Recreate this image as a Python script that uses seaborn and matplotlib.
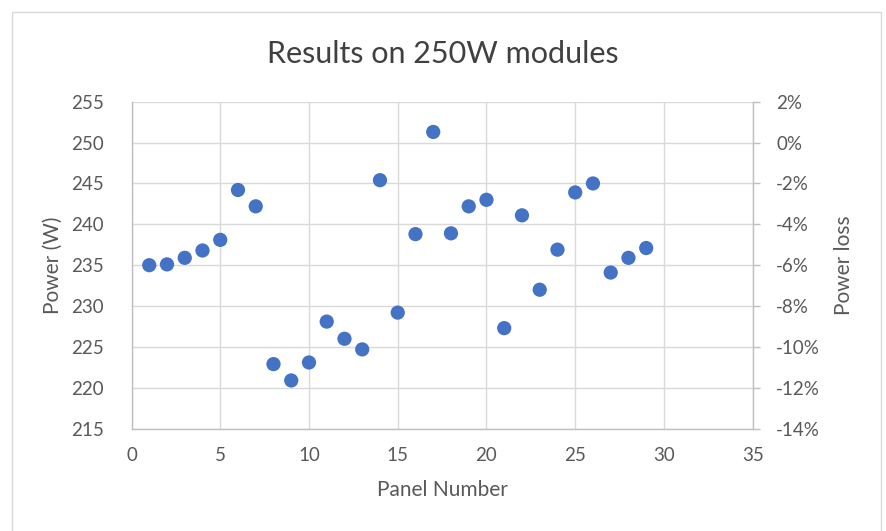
import matplotlib
matplotlib.use("Agg")
import matplotlib.pyplot as plt
import matplotlib.patches as patches
from matplotlib.ticker import PercentFormatter
import seaborn as sns
import pandas as pd

panel_number = list(range(1, 30))
power_w = [235.0, 235.1, 235.9, 236.8, 238.1, 244.2, 242.2, 222.9, 220.9, 223.1,
           228.1, 226.0, 224.7, 245.4, 229.2, 238.8, 251.3, 238.9, 242.2, 243.0,
           227.3, 241.1, 232.0, 236.9, 243.9, 245.0, 234.1, 235.9, 237.1]
x_ticks = [0, 5, 10, 15, 20, 25, 30, 35]
y_ticks = [215, 220, 225, 230, 235, 240, 245, 250, 255]
loss_ticks = [-0.14, -0.12, -0.10, -0.08, -0.06, -0.04, -0.02, 0.0, 0.02]

df = pd.DataFrame({"Panel Number": panel_number, "Power (W)": power_w})

sns.set_theme(style="white")
plt.rcParams["font.family"] = ["Lato", "DejaVu Sans"]
plt.rcParams["axes.unicode_minus"] = False
TXT = "#595959"
GRID = "#D9D9D9"
SPINE = "#BFBFBF"

fig = plt.figure(figsize=(8.86, 5.31), dpi=100)
fig.subplots_adjust(left=131.5/886, right=752.7/886, top=1-101.7/531, bottom=1-428.7/531)
ax = fig.add_subplot(111)

sns.scatterplot(data=df, x="Panel Number", y="Power (W)", ax=ax, s=105,
                color="#4472C4", edgecolor="none", linewidth=0, zorder=3)

ax.set_xlim(0, 35)
ax.set_ylim(215, 255)
ax.set_xticks(x_ticks)
ax.set_yticks(y_ticks)
ax.grid(True, color=GRID, linewidth=1.0)
ax.set_axisbelow(True)
for side in ["top", "right"]:
    ax.spines[side].set_visible(False)
for side in ["left", "bottom"]:
    ax.spines[side].set_color(SPINE)
    ax.spines[side].set_linewidth(1.0)
ax.tick_params(axis="both", length=0, labelsize=13.5, labelcolor=TXT)
ax.tick_params(axis="y", pad=20)
ax.tick_params(axis="x", pad=13)
ax.set_xlabel("Panel Number", fontsize=15, color=TXT, labelpad=12)
ax.set_ylabel("Power (W)", fontsize=15, color=TXT, labelpad=6)

ax2 = ax.twinx()
ax2.set_ylim(-0.14, 0.02)
ax2.set_yticks(loss_ticks)
ax2.yaxis.set_major_formatter(PercentFormatter(1.0, decimals=0))
for side in ["top", "left", "bottom"]:
    ax2.spines[side].set_visible(False)
ax2.spines["right"].set_color(SPINE)
ax2.spines["right"].set_linewidth(1.0)
ax2.tick_params(axis="y", direction="out", length=5, color=SPINE, width=1.0,
                labelsize=13.5, labelcolor=TXT, pad=12)
ax2.set_ylabel("Power loss", fontsize=15, color=TXT, labelpad=10)
ax2.grid(False)

fig.suptitle("Results on 250W modules", fontsize=22, color="#404040",
             y=1-54/531, va="center")

border = patches.Rectangle((12/886, -0.1), (881-12)/886, 1.1-12/531,
                           transform=fig.transFigure, fill=False,
                           edgecolor=GRID, linewidth=1.0)
fig.patches.append(border)

fig.savefig("out.png", dpi=100)
